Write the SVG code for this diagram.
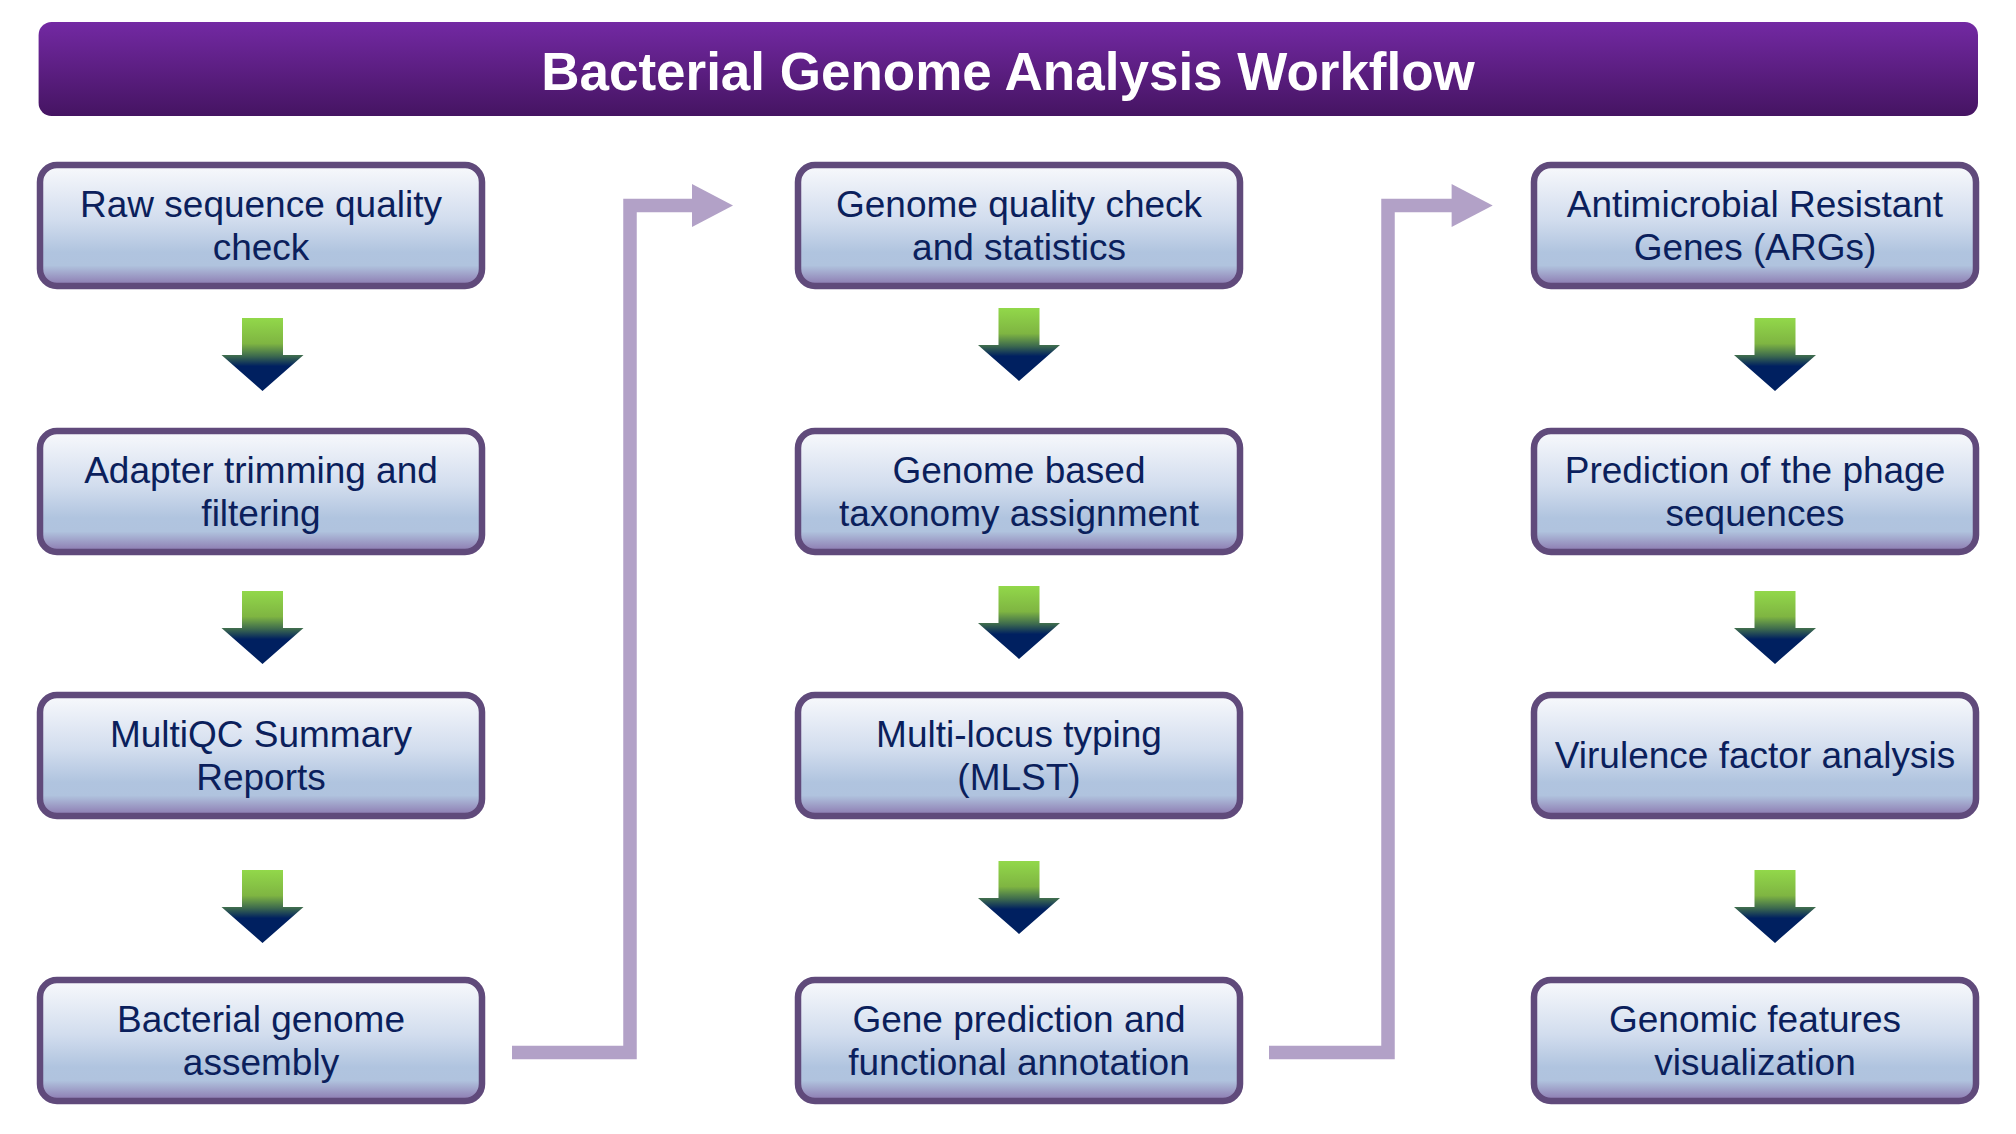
<svg xmlns="http://www.w3.org/2000/svg" xmlns:xlink="http://www.w3.org/1999/xlink" width="2016" height="1134" viewBox="0 0 2016 1134">
  <defs>
    <linearGradient id="gTitle" x1="0" y1="0" x2="0" y2="1">
      <stop offset="0" stop-color="#7329a3"/>
      <stop offset="1" stop-color="#451462"/>
    </linearGradient>
    <linearGradient id="gBox" x1="0" y1="0" x2="0" y2="1">
      <stop offset="0" stop-color="#f8f9fc"/>
      <stop offset="0.45" stop-color="#d2ddee"/>
      <stop offset="0.72" stop-color="#b0c4df"/>
      <stop offset="0.83" stop-color="#b0c3de"/>
      <stop offset="1" stop-color="#8a76ae"/>
    </linearGradient>
    <linearGradient id="gArrow" x1="0" y1="0" x2="0" y2="1">
      <stop offset="0" stop-color="#92d84a"/>
      <stop offset="0.35" stop-color="#7fb542"/>
      <stop offset="0.52" stop-color="#3d6a4e"/>
      <stop offset="0.66" stop-color="#002060"/>
      <stop offset="1" stop-color="#002060"/>
    </linearGradient>
    <path id="dn" d="M-20.5 0 H20.5 V37 H41 L0 73 L-41 37 H-20.5 Z" fill="url(#gArrow)"/>
    <style>
      .box { fill: url(#gBox); stroke: #604a7b; stroke-width: 6.5; }
      .lbl { font-family: "Liberation Sans", Arial, sans-serif; font-size: 37px; fill: #0b1f5c; text-anchor: middle; }
      .title { font-family: "Liberation Sans", Arial, sans-serif; font-size: 53px; font-weight: bold; fill: #ffffff; text-anchor: middle; }
      .conn { fill: none; stroke: #b2a1c7; stroke-width: 13.5; stroke-linejoin: miter; }
      .head { fill: #b2a1c7; }
    </style>
  </defs>
  <rect width="2016" height="1134" fill="#ffffff"/>

  <g id="title">
    <rect x="38.6" y="22" width="1939.4" height="94" rx="13" fill="url(#gTitle)"/>
    <text class="title" x="1008" y="90">Bacterial Genome Analysis Workflow</text>
  </g>

  <g id="connectors">
    <path class="conn" d="M512 1052.5 H630 V205.5 H694"/>
    <polygon class="head" points="692,184 733,205.5 692,227"/>
    <path class="conn" d="M1269 1052.5 H1388 V205.5 H1453"/>
    <polygon class="head" points="1451.6,184 1492.7,205.5 1451.6,227"/>
    <use href="#dn" x="262.5" y="318"/>
    <use href="#dn" x="262.5" y="591"/>
    <use href="#dn" x="262.5" y="870"/>
    <use href="#dn" x="1019" y="308"/>
    <use href="#dn" x="1019" y="586"/>
    <use href="#dn" x="1019" y="861"/>
    <use href="#dn" x="1775" y="318"/>
    <use href="#dn" x="1775" y="591"/>
    <use href="#dn" x="1775" y="870"/>
  </g>

  <g id="n1">
    <rect class="box" x="40" y="165" width="442" height="121" rx="17"/>
    <text class="lbl" x="261" y="217">Raw sequence quality</text>
    <text class="lbl" x="261" y="260">check</text>
  </g>
  <g id="n2">
    <rect class="box" x="40" y="431" width="442" height="121" rx="17"/>
    <text class="lbl" x="261" y="483">Adapter trimming and</text>
    <text class="lbl" x="261" y="526">filtering</text>
  </g>
  <g id="n3">
    <rect class="box" x="40" y="695" width="442" height="121" rx="17"/>
    <text class="lbl" x="261" y="747">MultiQC Summary</text>
    <text class="lbl" x="261" y="790">Reports</text>
  </g>
  <g id="n4">
    <rect class="box" x="40" y="980" width="442" height="121" rx="17"/>
    <text class="lbl" x="261" y="1032">Bacterial genome</text>
    <text class="lbl" x="261" y="1075">assembly</text>
  </g>

  <g id="n5">
    <rect class="box" x="798" y="165" width="442" height="121" rx="17"/>
    <text class="lbl" x="1019" y="217">Genome quality check</text>
    <text class="lbl" x="1019" y="260">and statistics</text>
  </g>
  <g id="n6">
    <rect class="box" x="798" y="431" width="442" height="121" rx="17"/>
    <text class="lbl" x="1019" y="483">Genome based</text>
    <text class="lbl" x="1019" y="526">taxonomy assignment</text>
  </g>
  <g id="n7">
    <rect class="box" x="798" y="695" width="442" height="121" rx="17"/>
    <text class="lbl" x="1019" y="747">Multi-locus typing</text>
    <text class="lbl" x="1019" y="790">(MLST)</text>
  </g>
  <g id="n8">
    <rect class="box" x="798" y="980" width="442" height="121" rx="17"/>
    <text class="lbl" x="1019" y="1032">Gene prediction and</text>
    <text class="lbl" x="1019" y="1075">functional annotation</text>
  </g>

  <g id="n9">
    <rect class="box" x="1534" y="165" width="442" height="121" rx="17"/>
    <text class="lbl" x="1755" y="217">Antimicrobial Resistant</text>
    <text class="lbl" x="1755" y="260">Genes (ARGs)</text>
  </g>
  <g id="n10">
    <rect class="box" x="1534" y="431" width="442" height="121" rx="17"/>
    <text class="lbl" x="1755" y="483">Prediction of the phage</text>
    <text class="lbl" x="1755" y="526">sequences</text>
  </g>
  <g id="n11">
    <rect class="box" x="1534" y="695" width="442" height="121" rx="17"/>
    <text class="lbl" x="1755" y="768">Virulence factor analysis</text>
  </g>
  <g id="n12">
    <rect class="box" x="1534" y="980" width="442" height="121" rx="17"/>
    <text class="lbl" x="1755" y="1032">Genomic features</text>
    <text class="lbl" x="1755" y="1075">visualization</text>
  </g>
</svg>
